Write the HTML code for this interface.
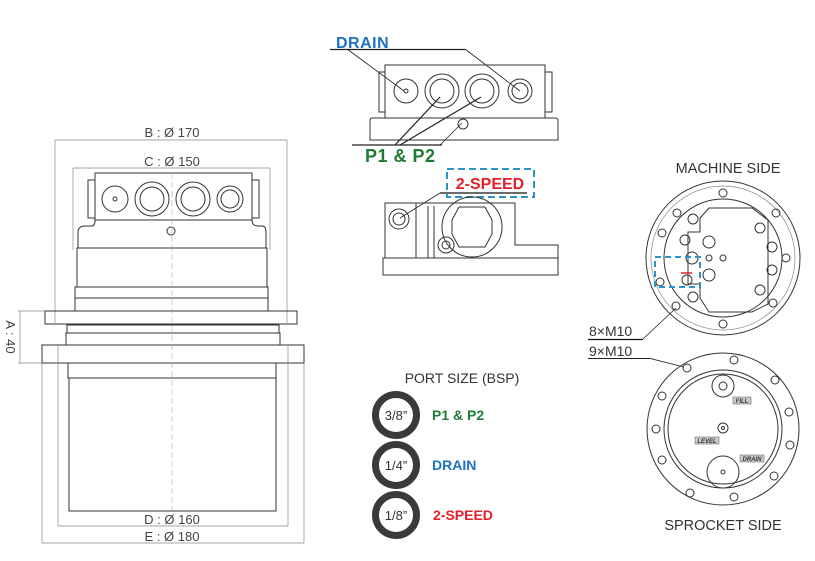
<!DOCTYPE html>
<html><head><meta charset="utf-8"><style>
html,body{margin:0;padding:0;background:#fff;width:815px;height:561px;overflow:hidden}
svg{display:block}
.d{font-family:"Liberation Sans",sans-serif;font-size:13px;fill:#444}
.b{font-family:"Liberation Sans",sans-serif;font-weight:bold;font-size:14px}
.l{fill:none;stroke:#333;stroke-width:1}
.t{fill:none;stroke:#888;stroke-width:0.7}
</style></head><body>
<svg width="815" height="561" viewBox="0 0 815 561" xmlns="http://www.w3.org/2000/svg">
<!-- LEFT VIEW -->
<g>
<text class="d" x="172" y="137" text-anchor="middle">B : Ø 170</text>
<line class="t" x1="55" y1="140" x2="287" y2="140"/>
<line class="t" x1="55" y1="140" x2="55" y2="323"/>
<line class="t" x1="287" y1="140" x2="287" y2="323"/>
<text class="d" x="172" y="166" text-anchor="middle">C : Ø 150</text>
<line class="t" x1="73" y1="168" x2="270" y2="168"/>
<line class="t" x1="73" y1="168" x2="73" y2="250"/>
<line class="t" x1="270" y1="168" x2="270" y2="250"/>
<path class="l" d="M95 173 H252 V220 H95 Z"/>
<rect class="l" x="88" y="180" width="7" height="38"/>
<rect class="l" x="252" y="180" width="7" height="38"/>
<circle class="l" cx="115" cy="199" r="13"/><circle class="l" cx="115" cy="199" r="2"/>
<circle class="l" cx="152" cy="199" r="17"/><circle class="l" cx="152" cy="199" r="12" stroke-width="2"/>
<circle class="l" cx="193" cy="199" r="17"/><circle class="l" cx="193" cy="199" r="12" stroke-width="2"/>
<circle class="l" cx="230" cy="199" r="13"/><circle class="l" cx="230" cy="199" r="9"/>
<circle class="l" cx="171" cy="231" r="4"/>
<path class="l" d="M78 248 V232 Q78 226 86 226 H92 Q95 226 95 220 M252 220 Q252 226 258 226 H262 Q266 226 266 232 V248"/>
<rect class="l" x="77" y="248" width="190" height="39"/>
<rect class="l" x="75" y="287" width="193" height="11" stroke-width="1.5"/>
<rect class="l" x="75" y="298" width="193" height="13"/>
<rect class="l" x="45" y="311" width="252" height="13"/>
<rect class="l" x="67" y="325" width="212" height="8"/>
<rect class="l" x="66" y="333" width="214" height="12"/>
<rect class="l" x="42" y="345" width="262" height="18"/>
<rect class="l" x="68" y="363" width="208" height="15"/>
<rect class="l" x="69" y="378" width="207" height="133" stroke-width="1.2"/>
<line x1="172" y1="173" x2="172" y2="511" stroke="#aaa" stroke-width="0.6" stroke-dasharray="6 3"/>
<line class="t" x1="58" y1="345" x2="58" y2="526"/>
<line class="t" x1="288" y1="345" x2="288" y2="526"/>
<line class="t" x1="58" y1="526" x2="288" y2="526"/>
<text class="d" x="172" y="524" text-anchor="middle">D : Ø 160</text>
<line class="t" x1="42" y1="363" x2="42" y2="543"/>
<line class="t" x1="304" y1="363" x2="304" y2="543"/>
<line class="t" x1="42" y1="543" x2="304" y2="543"/>
<text class="d" x="172" y="541" text-anchor="middle">E : Ø 180</text>
<line class="t" x1="18" y1="311" x2="45" y2="311"/>
<line class="t" x1="18" y1="363" x2="42" y2="363"/>
<line class="t" x1="20" y1="311" x2="20" y2="363"/>
<text class="d" x="6" y="337" text-anchor="middle" transform="rotate(90 6 337)">A : 40</text>
</g>

<!-- TOP MIDDLE -->
<g>
<text class="b" x="336" y="48" fill="#1b73c1" style="font-size:16px;letter-spacing:0.5px">DRAIN</text>
<line x1="330" y1="49.5" x2="465" y2="49.5" stroke="#222" stroke-width="1.2"/>
<line x1="347" y1="49" x2="404" y2="91" stroke="#222" stroke-width="0.8"/>
<line x1="465" y1="49" x2="520" y2="91" stroke="#222" stroke-width="0.8"/>
<rect class="l" x="385" y="65" width="160" height="53"/>
<rect class="l" x="379" y="72" width="6" height="40"/>
<rect class="l" x="545" y="72" width="7" height="40"/>
<path class="l" d="M385 118 H372 Q370 118 370 121 V140 H558 V121 Q558 118 555 118 H545"/>
<circle class="l" cx="406" cy="91" r="12"/><circle class="l" cx="406" cy="91" r="2"/>
<circle class="l" cx="442" cy="91" r="17"/><circle class="l" cx="442" cy="91" r="12" stroke-width="2"/>
<circle class="l" cx="482" cy="91" r="17"/><circle class="l" cx="482" cy="91" r="12" stroke-width="2"/>
<circle class="l" cx="520" cy="91" r="12"/><circle class="l" cx="520" cy="91" r="8"/>
<circle class="l" cx="463" cy="124" r="5"/>
<line x1="352" y1="145" x2="442" y2="145" stroke="#222" stroke-width="1.2"/>
<line x1="395" y1="145" x2="440" y2="97" stroke="#222" stroke-width="1.2"/>
<line x1="400" y1="145" x2="481" y2="97" stroke="#222" stroke-width="1.2"/>
<line x1="440" y1="145" x2="462" y2="123" stroke="#222" stroke-width="0.7"/>
<text class="b" x="365" y="162" fill="#1f7a33" style="font-size:18px;letter-spacing:0.5px">P1 &amp; P2</text>
<rect x="447" y="169" width="87" height="28" fill="none" stroke="#2a94c8" stroke-width="2" stroke-dasharray="7 4"/>
<text class="b" x="490" y="189" fill="#e3202a" text-anchor="middle" style="font-size:16px">2-SPEED</text>
<line x1="440" y1="193" x2="527" y2="193" stroke="#111" stroke-width="1.2"/>
<line x1="440" y1="193" x2="400" y2="218" stroke="#222" stroke-width="0.8"/>
<path class="l" d="M385 203 H515 V245 H558 V275 H383 V258 H385 Z"/>
<line class="l" x1="383" y1="258" x2="558" y2="258"/>
<line class="l" x1="416" y1="203" x2="416" y2="258"/>
<line class="l" x1="428" y1="206" x2="428" y2="258"/>
<line class="l" x1="434" y1="206" x2="434" y2="258"/>
<circle class="l" cx="472" cy="227" r="30"/>
<path class="l" d="M459 207 H485 L492 220 V234 L485 247 H459 L452 234 V220 Z"/>
<circle class="l" cx="446" cy="245" r="8"/><circle class="l" cx="446" cy="245" r="4"/>
<circle class="l" cx="399" cy="219" r="10" stroke-width="1.5"/><circle class="l" cx="399" cy="219" r="6"/>
</g>

<!-- PORT SIZE -->
<g>
<text class="d" x="462" y="383" text-anchor="middle" style="font-size:14px;fill:#333">PORT SIZE (BSP)</text>
<circle cx="396" cy="415" r="20.5" fill="none" stroke="#3a3a3a" stroke-width="7"/>
<circle cx="396" cy="465" r="20.5" fill="none" stroke="#3a3a3a" stroke-width="7"/>
<circle cx="396" cy="515" r="20.5" fill="none" stroke="#3a3a3a" stroke-width="7"/>
<text class="d" x="396" y="420" text-anchor="middle" style="fill:#333">3/8”</text>
<text class="d" x="396" y="470" text-anchor="middle" style="fill:#333">1/4”</text>
<text class="d" x="396" y="520" text-anchor="middle" style="fill:#333">1/8”</text>
<text class="b" x="432" y="420" fill="#1f7a33">P1 &amp; P2</text>
<text class="b" x="432" y="470" fill="#1b73c1">DRAIN</text>
<text class="b" x="433" y="520" fill="#e3202a">2-SPEED</text>
</g>

<!-- MACHINE SIDE -->
<g>
<text class="d" x="728" y="173" text-anchor="middle" style="font-size:14.5px;fill:#333">MACHINE SIDE</text>
<circle class="l" cx="723" cy="258" r="77"/>
<circle class="t" cx="723" cy="258" r="72"/>
<circle class="l" cx="723" cy="258" r="59" stroke-width="1.5"/>
<g class="l">
<circle cx="723" cy="193" r="4"/><circle cx="677" cy="213" r="4"/><circle cx="662" cy="233" r="4"/>
<circle cx="776" cy="213" r="4"/><circle cx="786" cy="258" r="4"/><circle cx="773" cy="303" r="4"/>
<circle cx="723" cy="324" r="4"/><circle cx="676" cy="306" r="4"/><circle cx="660" cy="282" r="4"/>
</g>
<path class="l" d="M709 208 H752 L768 220 V304 L752 312 H709 L700 298 V284 H688 V232 H700 V218 Z"/>
<g class="l">
<circle cx="693" cy="219" r="5"/><circle cx="685" cy="240" r="5"/><circle cx="693" cy="297" r="5"/>
<circle cx="760" cy="228" r="5"/><circle cx="772" cy="247" r="5"/><circle cx="772" cy="270" r="5"/><circle cx="760" cy="290" r="5"/>
<circle cx="709" cy="242" r="6"/><circle cx="709" cy="275" r="6"/><circle cx="692" cy="258" r="6"/>
<circle cx="709" cy="258" r="3"/><circle cx="723" cy="258" r="3"/><circle cx="687" cy="280" r="5"/>
</g>
<line x1="681" y1="273" x2="692" y2="273" stroke="#e3202a" stroke-width="1.5"/>
<rect x="655" y="257" width="45" height="30" fill="none" stroke="#2a94c8" stroke-width="2" stroke-dasharray="6 4"/>
<text class="d" x="589" y="336" style="font-size:14px;fill:#333">8×M10</text>
<line x1="588" y1="339.5" x2="643" y2="339.5" stroke="#111" stroke-width="1.3"/>
<line x1="643" y1="339" x2="676" y2="308" stroke="#222" stroke-width="0.8"/>
<text class="d" x="589" y="356" style="font-size:14px;fill:#333">9×M10</text>
<path d="M588 358.5 H650 L684 367" fill="none" stroke="#222" stroke-width="0.9"/>
</g>

<!-- SPROCKET SIDE -->
<g>
<circle class="l" cx="723" cy="429" r="76"/>
<circle class="l" cx="723" cy="429" r="59" stroke-width="1.5"/>
<circle class="l" cx="723" cy="429" r="55"/>
<g class="l">
<circle cx="687" cy="368" r="4"/><circle cx="734" cy="360" r="4"/><circle cx="775" cy="380" r="4"/>
<circle cx="789" cy="412" r="4"/><circle cx="790" cy="445" r="4"/><circle cx="774" cy="476" r="4"/>
<circle cx="734" cy="497" r="4"/><circle cx="690" cy="493" r="4"/><circle cx="662" cy="460" r="4"/>
<circle cx="656" cy="429" r="4"/><circle cx="662" cy="396" r="4"/>
</g>
<circle class="l" cx="723" cy="386" r="11"/><circle class="l" cx="723" cy="386" r="4"/>
<circle class="l" cx="723" cy="428" r="5"/><circle class="l" cx="723" cy="428" r="1.5"/>
<circle class="l" cx="723" cy="472" r="16"/><circle class="l" cx="723" cy="472" r="2"/>
<rect x="733" y="397" width="18" height="7" fill="#ccc" stroke="#555" stroke-width="0.5"/>
<text x="742" y="403" font-family="Liberation Sans,sans-serif" font-size="6" font-style="italic" font-weight="bold" text-anchor="middle" fill="#333">FILL</text>
<rect x="695" y="437" width="24" height="7" fill="#ccc" stroke="#555" stroke-width="0.5"/>
<text x="707" y="443" font-family="Liberation Sans,sans-serif" font-size="6" font-style="italic" font-weight="bold" text-anchor="middle" fill="#333">LEVEL</text>
<rect x="740" y="455" width="24" height="7" fill="#ccc" stroke="#555" stroke-width="0.5"/>
<text x="752" y="461" font-family="Liberation Sans,sans-serif" font-size="6" font-style="italic" font-weight="bold" text-anchor="middle" fill="#333">DRAIN</text>
<text class="d" x="723" y="530" text-anchor="middle" style="font-size:14.5px;fill:#333">SPROCKET SIDE</text>
</g>
</svg>
</body></html>
